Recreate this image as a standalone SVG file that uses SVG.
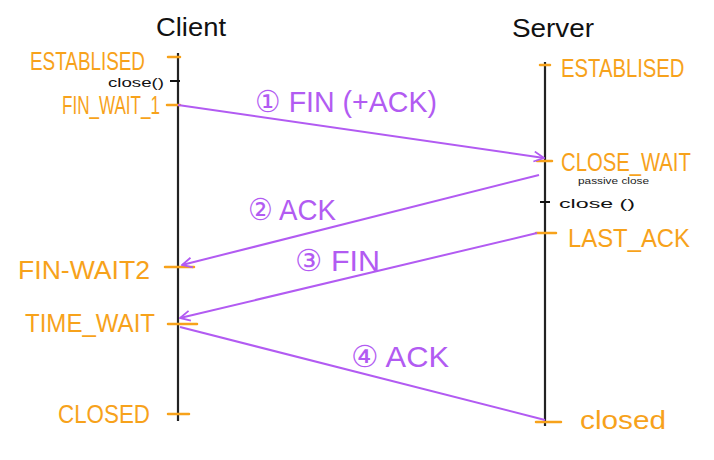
<svg xmlns="http://www.w3.org/2000/svg" width="714" height="460" viewBox="0 0 714 460">
<style>
.bg{fill:#fff}
.life{stroke:#222;stroke-width:2.2;fill:none}
.tick{stroke:#F7A21B;stroke-width:2.5;stroke-linecap:round}
.btick{stroke:#111;stroke-width:2}
.st{fill:#F7A21B;font-family:"Liberation Sans",Arial,sans-serif;font-size:26px}
.hd{fill:#111;font-family:"Liberation Sans",Arial,sans-serif;font-size:26px}
.sm{fill:#111;font-family:"Liberation Sans",Arial,sans-serif;font-size:12px}
.xs{fill:#222;font-family:"Liberation Sans",Arial,sans-serif;font-size:9px}
.msg{stroke:#B25BF2;stroke-width:2;fill:none}
.lbl{fill:#B25BF2;font-family:"Liberation Sans",Arial,sans-serif;font-size:30px}
</style>
<defs>
<marker id="ah" viewBox="0 0 12 12" refX="11" refY="6" markerWidth="12" markerHeight="12" markerUnits="userSpaceOnUse" orient="auto">
<path d="M1,1 L11,6 L1,11" fill="none" stroke="#B25BF2" stroke-width="1.8"/>
</marker>
</defs>
<rect class="bg" width="714" height="460"/>
<g id="client">
<line class="life" x1="178" y1="53" x2="178" y2="421"/>
<text class="hd" x="156" y="36" textLength="70" lengthAdjust="spacingAndGlyphs">Client</text>
</g>
<g id="server">
<line class="life" x1="545" y1="62" x2="545" y2="426"/>
<text class="hd" x="512" y="37" textLength="82" lengthAdjust="spacingAndGlyphs">Server</text>
</g>
<g id="c-established">
<line class="tick" x1="168" y1="57" x2="180" y2="57"/>
<text class="st" x="30" y="70" textLength="115" lengthAdjust="spacingAndGlyphs">ESTABLISED</text>
</g>
<g id="c-close">
<line class="btick" x1="170" y1="81" x2="180" y2="81"/>
<text class="sm" x="108" y="87" textLength="56" lengthAdjust="spacingAndGlyphs">close()</text>
</g>
<g id="c-finwait1">
<line class="tick" x1="167" y1="105" x2="180" y2="105"/>
<text class="st" x="62" y="114" font-size="22" textLength="98" lengthAdjust="spacingAndGlyphs">FIN_WAIT_1</text>
</g>
<g id="c-finwait2">
<line class="tick" x1="165" y1="267" x2="194" y2="267"/>
<text class="st" x="18" y="279" font-size="29" textLength="132" lengthAdjust="spacingAndGlyphs">FIN-WAIT2</text>
</g>
<g id="c-timewait">
<line class="tick" x1="168" y1="324" x2="197" y2="324"/>
<text class="st" x="25" y="332" font-size="29" textLength="130" lengthAdjust="spacingAndGlyphs">TIME_WAIT</text>
</g>
<g id="c-closed">
<line class="tick" x1="168" y1="414" x2="189" y2="414"/>
<text class="st" x="58" y="423" font-size="28" textLength="92" lengthAdjust="spacingAndGlyphs">CLOSED</text>
</g>
<g id="s-established">
<line class="tick" x1="540" y1="65" x2="550" y2="65"/>
<text class="st" transform="translate(561,77) scale(0.78,1)" x="0" y="0" font-size="25">ESTABLISED</text>
</g>
<g id="s-closewait">
<line class="tick" x1="537" y1="161" x2="552" y2="161"/>
<text class="st" transform="translate(561,171) scale(0.78,1)" x="0" y="0" font-size="25">CLOSE_WAIT</text>
<text class="xs" x="578" y="184" textLength="71" lengthAdjust="spacingAndGlyphs">passive close</text>
</g>
<g id="s-close">
<line class="btick" x1="540" y1="202" x2="550" y2="202"/>
<text class="sm" x="559" y="208" font-size="17" textLength="76" lengthAdjust="spacingAndGlyphs">close ()</text>
</g>
<g id="s-lastack">
<line class="tick" x1="536" y1="233" x2="556" y2="233"/>
<text class="st" x="568" y="247" font-size="27" textLength="122" lengthAdjust="spacingAndGlyphs">LAST_ACK</text>
</g>
<g id="s-closed">
<line class="tick" x1="536" y1="422" x2="561" y2="422"/>
<text class="st" x="580" y="429" font-size="28" textLength="86" lengthAdjust="spacingAndGlyphs">closed</text>
</g>
<g id="connectors">
<line class="msg" x1="178" y1="105" x2="544" y2="158" marker-end="url(#ah)"/>
<line class="msg" x1="539" y1="175" x2="182" y2="265" marker-end="url(#ah)"/>
<line class="msg" x1="537" y1="233" x2="180" y2="318" marker-end="url(#ah)"/>
<line class="msg" x1="180" y1="327" x2="545" y2="420"/>
</g>
<g id="labels">
<text class="lbl" x="255" y="112" textLength="182" lengthAdjust="spacingAndGlyphs">① FIN (+ACK)</text>
<text class="lbl" x="248" y="220" textLength="88" lengthAdjust="spacingAndGlyphs">② ACK</text>
<text class="lbl" x="295" y="271" textLength="85" lengthAdjust="spacingAndGlyphs">③ FIN</text>
<text class="lbl" x="351" y="367" textLength="98" lengthAdjust="spacingAndGlyphs">④ ACK</text>
</g>
</svg>
